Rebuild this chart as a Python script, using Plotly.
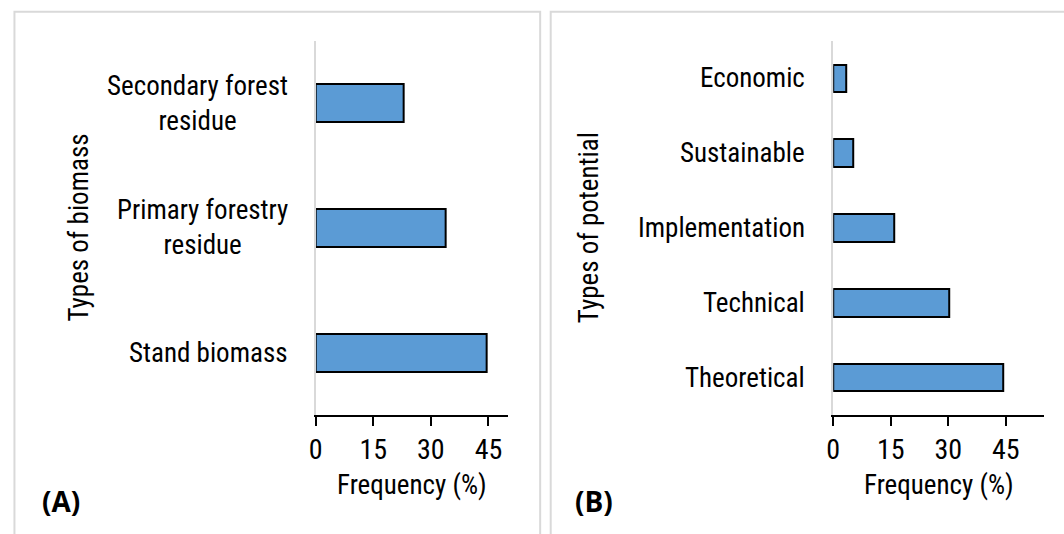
import plotly.graph_objects as go

# Panel A: frequency of biomass types
biomass_types = ["Secondary forest<br>residue", "Primary forestry<br>residue", "Stand biomass"]
biomass_freq = [23.0, 33.9, 44.6]

# Panel B: frequency of potential types
potential_types = ["Economic", "Sustainable", "Implementation", "Technical", "Theoretical"]
potential_freq = [3.4, 5.2, 15.9, 30.2, 44.4]

freq_ticks = [0, 15, 30, 45]
panel_labels = ["(A)", "(B)"]
y_titles = ["Types of biomass", "Types of potential"]
x_title = "Frequency (%)"

W, H = 1064, 534
NARROW = "Liberation Sans Narrow, Arial Narrow, Roboto Condensed, Liberation Sans, Arial, sans-serif"
FS = 27
BAR_FILL = "#5b9bd5"
FRAME = "#d9d9d9"


def px_x(v):
    return v / W


def px_y(v):
    return 1 - v / H


fig = go.Figure()
fig.add_trace(go.Bar(
    x=biomass_freq, y=biomass_types, orientation="h", width=0.304,
    marker=dict(color=BAR_FILL, line=dict(color="black", width=2)),
    xaxis="x", yaxis="y", showlegend=False, hoverinfo="skip",
))
fig.add_trace(go.Bar(
    x=potential_freq, y=potential_types, orientation="h", width=0.37,
    marker=dict(color=BAR_FILL, line=dict(color="black", width=2)),
    xaxis="x2", yaxis="y2", showlegend=False, hoverinfo="skip",
))

ydom = [px_y(415), px_y(41)]
xdoms = [[px_x(310.7), px_x(504)], [px_x(831.7), px_x(1044)]]
xranges = [[0, 50], [0, 55]]

xcommon = dict(
    tickvals=freq_ticks, ticks="outside", ticklen=9, tickwidth=1.5, tickcolor="black",
    showline=True, linecolor="black", linewidth=1.5, showgrid=False, zeroline=False,
    tickfont=dict(family=NARROW, size=FS + 1, color="black"), fixedrange=True,
)
ycommon = dict(
    type="category", showticklabels=False, ticks="", showline=True, linecolor=FRAME,
    linewidth=2, showgrid=False, zeroline=False, fixedrange=True,
)

fig.update_layout(
    width=W, height=H, margin=dict(l=0, r=0, t=0, b=0),
    paper_bgcolor="white", plot_bgcolor="white",
    xaxis=dict(domain=xdoms[0], range=xranges[0], anchor="y", **xcommon),
    yaxis=dict(domain=ydom, range=[len(biomass_types) - 0.5, -0.5], anchor="x", **ycommon),
    xaxis2=dict(domain=xdoms[1], range=xranges[1], anchor="y2", **xcommon),
    yaxis2=dict(domain=ydom, range=[len(potential_types) - 0.5, -0.5], anchor="x2", **ycommon),
    bargap=0,
)

annotations = []
# category labels, centred lines, right edge just left of the axis
for cats, xr, yr in [(biomass_types, "x domain", "y"), (potential_types, "x2 domain", "y2")]:
    for c in cats:
        annotations.append(dict(
            text=c, x=0, xref=xr, y=c, yref=yr, xanchor="right", yanchor="middle",
            xshift=-26, align="center", showarrow=False,
            font=dict(family=NARROW, size=FS, color="black"),
        ))

# axis titles
for i, xd in enumerate(xdoms):
    annotations.append(dict(
        text=x_title, x=(xd[0] + xd[1]) / 2, xref="paper", y=px_y(485), yref="paper",
        xanchor="center", yanchor="middle", showarrow=False,
        font=dict(family=NARROW, size=FS, color="black"),
    ))
for title, xc in zip(y_titles, [72, 586]):
    annotations.append(dict(
        text=title, x=px_x(xc), xref="paper", y=(ydom[0] + ydom[1]) / 2, yref="paper",
        xanchor="center", yanchor="middle", textangle=-90, showarrow=False,
        font=dict(family=NARROW, size=FS, color="black"),
    ))

# panel letters
for lab, xc in zip(panel_labels, [54, 591]):
    annotations.append(dict(
        text="<b>" + lab + "</b>", x=px_x(xc), xref="paper", y=px_y(501), yref="paper",
        xanchor="center", yanchor="middle", showarrow=False,
        font=dict(family="Open Sans, Lato, sans-serif", size=28, color="black"),
    ))
fig.update_layout(annotations=annotations)

# light frames around each panel
fig.update_layout(shapes=[
    dict(type="rect", xref="paper", yref="paper", x0=px_x(7.5), x1=px_x(536.7),
         y0=-0.1, y1=px_y(11.7), line=dict(color=FRAME, width=2), fillcolor="rgba(0,0,0,0)"),
    dict(type="rect", xref="paper", yref="paper", x0=px_x(547.3), x1=1.1,
         y0=-0.1, y1=px_y(11.7), line=dict(color=FRAME, width=2), fillcolor="rgba(0,0,0,0)"),
])

fig.write_html("out.html", config=dict(displayModeBar=False))
